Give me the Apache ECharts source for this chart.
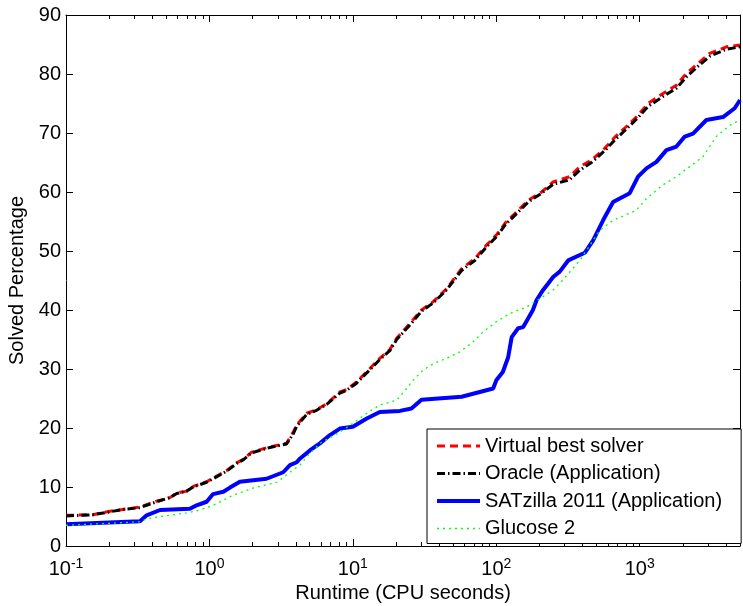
<!DOCTYPE html>
<html><head><meta charset="utf-8">
<script src="https://cdn.jsdelivr.net/npm/echarts@6/dist/echarts.min.js"></script>
<style>html,body{margin:0;padding:0;background:#fff}#c{width:743px;height:606px}</style>
</head><body><div id="c"></div>
<script>
const seriesNames = ['Virtual best solver', 'Oracle (Application)', 'SATzilla 2011 (Application)', 'Glucose 2'];

const vbsTime = [0.1,0.154,0.203,0.249,0.328,0.428,0.531,0.591,0.693,0.771,0.956,1.06,1.32,1.55,1.72,1.97,2.64,3.45,3.84,4.06,4.76,5.58,6.56,8.11,9.04,10.6,12.8,15.4,18.1,20.2,24.9,30.1,36.3,45.0,57.3,70.8,85.5,100,116,138,167,207,249,325,382,461,570,670,808,973,1142,1453,1802,2115,2546,3074,4019,5000];
const vbsPct = [5.2,5.3,5.9,6.2,6.6,7.6,8.2,9.0,9.3,10.1,10.9,11.5,12.8,14.1,14.7,15.9,16.8,17.4,19.3,20.5,22.5,23.1,24.1,26.1,26.5,27.8,29.8,31.8,33.3,35.2,37.7,40.0,41.4,43.6,47.0,48.7,51.0,52.7,54.8,56.6,58.6,60.0,61.7,62.6,64.3,65.4,67.4,69.3,71.1,73.0,75.0,76.7,78.1,80.1,81.8,83.5,84.6,84.9];

const oracleTime = vbsTime;
const oraclePct = [5.1,5.3,5.8,6.2,6.5,7.5,8.2,8.9,9.3,10.0,10.8,11.4,12.7,14.0,14.6,15.8,16.7,17.3,19.0,20.3,22.3,23.0,24.0,25.9,26.4,27.6,29.6,31.6,33.1,35.0,37.4,39.8,41.2,43.4,46.7,48.4,50.7,52.4,54.5,56.3,58.3,59.8,61.3,62.1,63.7,65.0,67.0,68.8,70.7,72.6,74.5,76.2,77.6,79.5,81.3,83.0,84.2,84.6];

const satTime = [0.1,0.328,0.365,0.452,0.731,0.814,0.956,1.06,1.25,1.39,1.63,2.50,3.27,3.64,4.06,4.27,5.01,5.89,6.92,8.11,10.0,12.5,15.4,21.3,25.6,30.1,57.3,95.1,100,111,121,128,142,154,167,180,191,212,230,249,277,317,414,473,555,652,851,973,1114,1307,1535,1802,2060,2352,2916,3806,4590,5000];
const satPct = [3.7,4.2,5.2,6.1,6.3,6.9,7.5,8.8,9.2,9.9,10.9,11.4,12.5,13.7,14.2,14.8,16.2,17.4,18.8,19.9,20.2,21.6,22.7,22.9,23.3,24.8,25.3,26.7,28.1,29.5,32.0,35.4,36.9,37.1,38.6,40.0,41.7,43.4,44.5,45.6,46.5,48.4,49.7,51.8,55.2,58.3,59.8,62.6,64.0,65.1,67.1,67.7,69.4,69.9,72.2,72.7,74.2,75.6];

const gluTime = [0.1,0.328,0.365,0.452,0.693,0.859,1.06,1.46,2.01,2.95,3.64,4.27,4.76,5.89,8.11,10.0,12.5,15.4,20.2,23.7,26.3,30.9,36.3,45.0,55.7,68.9,80.9,100,124,162,201,249,277,382,526,652,948,1114,1453,1802,2230,2762,3420,4238,5000];
const gluPct = [3.5,4.1,4.6,5.0,5.6,6.1,6.9,8.6,9.8,10.8,12.5,13.7,15.1,17.4,19.3,20.8,22.5,23.9,24.7,26.7,28.1,29.8,30.9,31.8,32.9,34.6,36.3,38.0,39.4,40.5,41.9,43.4,44.5,48.4,53.5,55.2,56.9,58.9,61.2,62.6,64.3,66.0,69.4,71.3,72.2];

const xMajorTicks = [0.1, 1, 10, 100, 1000];
const xMinorTicks = [0.2,0.3,0.4,0.5,0.6,0.7,0.8,0.9,2,3,4,5,6,7,8,9,20,30,40,50,60,70,80,90,200,300,400,500,600,700,800,900,2000,3000,4000,5000];
const xMin = 0.1, xMax = 5000;

const FONT = "'Liberation Sans', Arial, Helvetica, sans-serif";
const FS = 20;
const pair = (t, p) => t.map((v, i) => [v, p[i]]);

const baseX = {
  type: 'log', logBase: 10, min: xMin, max: xMax, gridIndex: 0,
  splitLine: { show: false }, minorTick: { show: false }, minorSplitLine: { show: false }
};
const lineOn = { show: true, onZero: false, lineStyle: { color: '#000', width: 1 } };
const lineOff = { show: false, onZero: false };
const tickStyle = { color: '#000', width: 1 };

const chart = echarts.init(document.getElementById('c'), null, { renderer: 'canvas' });
chart.setOption({
  animation: false,
  backgroundColor: '#fff',
  textStyle: { fontFamily: FONT },
  grid: { left: 66, top: 15, right: 3, bottom: 60, containLabel: false, outerBoundsMode: 'none' },
  xAxis: [
    Object.assign({}, baseX, {
      position: 'bottom',
      name: 'Runtime (CPU seconds)', nameLocation: 'middle', nameGap: 35,
      nameTextStyle: { fontSize: FS, color: '#000', fontFamily: FONT },
      axisLine: lineOn,
      axisTick: { show: true, inside: true, length: 7, customValues: xMajorTicks, lineStyle: tickStyle },
      axisLabel: {
        show: true, customValues: xMajorTicks, margin: 11, color: '#000', fontSize: FS, fontFamily: FONT,
        formatter: v => '10{sup|' + Math.round(Math.log10(v)) + '}',
        rich: { sup: { fontSize: 14, fontFamily: FONT, color: '#000', verticalAlign: 'bottom', padding: [0, 0, 10, 0] } }
      }
    }),
    Object.assign({}, baseX, {
      position: 'bottom',
      axisLine: lineOff,
      axisTick: { show: true, inside: true, length: 4, customValues: xMinorTicks, lineStyle: tickStyle },
      axisLabel: { show: false }
    }),
    Object.assign({}, baseX, {
      position: 'top',
      axisLine: lineOn,
      axisTick: { show: true, inside: true, length: 7, customValues: xMajorTicks, lineStyle: tickStyle },
      axisLabel: { show: false }
    }),
    Object.assign({}, baseX, {
      position: 'top',
      axisLine: lineOff,
      axisTick: { show: true, inside: true, length: 4, customValues: xMinorTicks, lineStyle: tickStyle },
      axisLabel: { show: false }
    })
  ],
  yAxis: [
    {
      type: 'value', min: 0, max: 90, interval: 10, position: 'left',
      name: 'Solved Percentage', nameLocation: 'middle', nameGap: 38,
      nameTextStyle: { fontSize: FS, color: '#000', fontFamily: FONT },
      axisLine: lineOn,
      axisTick: { show: true, inside: true, length: 7, lineStyle: tickStyle },
      axisLabel: { show: true, margin: 5, color: '#000', fontSize: FS, fontFamily: FONT },
      splitLine: { show: false }
    },
    {
      type: 'value', min: 0, max: 90, interval: 10, position: 'right',
      axisLine: lineOn,
      axisTick: { show: true, inside: true, length: 7, lineStyle: tickStyle },
      axisLabel: { show: false },
      splitLine: { show: false }
    }
  ],
  legend: {
    left: 427, top: 429, orient: 'vertical',
    padding: [7, 19, 5, 8], itemGap: 7.5, itemWidth: 43, itemHeight: 14,
    backgroundColor: '#fff', borderColor: '#000', borderWidth: 1, borderRadius: 0,
    textStyle: { fontSize: FS, color: '#000', fontFamily: FONT },
    itemStyle: { opacity: 0, borderWidth: 0 },
    lineStyle: { width: 'inherit', type: 'inherit' },
    data: seriesNames
  },
  series: [
    { name: seriesNames[0], type: 'line', data: pair(vbsTime, vbsPct), showSymbol: false, symbol: 'none',
      lineStyle: { color: '#ff0000', width: 3, type: [8, 5] }, itemStyle: { color: '#ff0000' }, z: 2 },
    { name: seriesNames[1], type: 'line', data: pair(oracleTime, oraclePct), showSymbol: false, symbol: 'none',
      lineStyle: { color: '#000000', width: 3, type: [8, 3, 1.5, 3] }, itemStyle: { color: '#000' }, z: 3 },
    { name: seriesNames[2], type: 'line', data: pair(satTime, satPct), showSymbol: false, symbol: 'none',
      lineStyle: { color: '#0000ff', width: 4 }, itemStyle: { color: '#0000ff' }, z: 4 },
    { name: seriesNames[3], type: 'line', data: pair(gluTime, gluPct), showSymbol: false, symbol: 'none',
      lineStyle: { color: '#00ff00', width: 1.3, type: [2, 4] }, itemStyle: { color: '#00ff00' }, z: 5 }
  ]
});
</script>
</body></html>
